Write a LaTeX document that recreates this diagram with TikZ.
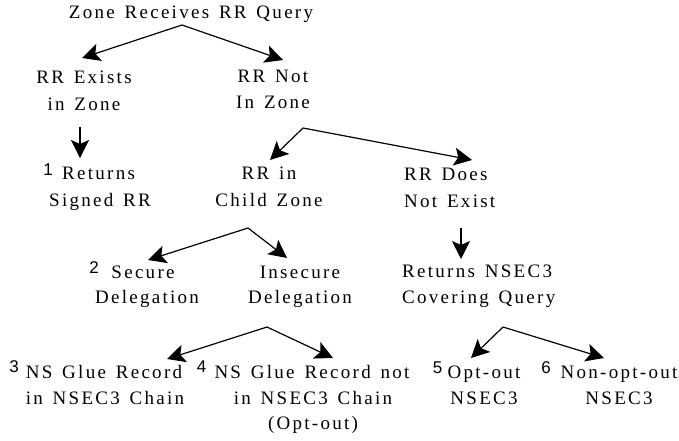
\documentclass[tikz,border=0pt]{standalone}
\usepackage{fontspec}
\setmainfont{Liberation Serif}[LetterSpace=12,WordSpace=1.4]
\newfontfamily\numfont{Liberation Sans}
\usetikzlibrary{arrows.meta}
\begin{document}
\begin{tikzpicture}[x=1pt,y=-1pt,
  txt/.style={inner sep=0pt, font=\fontsize{19}{26}\selectfont, anchor=base},
  txtl/.style={txt, anchor=base west},
  num/.style={inner sep=0pt, font=\numfont\fontsize{17}{17}\selectfont, anchor=base},
  arr/.style={line width=1.2pt, -{Stealth[length=18pt,width=18pt,inset=4pt]}}]
\useasboundingbox (0,0) rectangle (679,440);

% texts
\node[txt] (query) at (191,18) {Zone Receives RR Query};
\node[txt] (exists) at (84,83) {RR Exists};
\node[txt] (exists2) at (84,110) {in Zone};
\node[txt] (notin) at (273,82) {RR Not};
\node[txt] (notin2) at (273,108) {In Zone};
\node[num] (n1) at (48,175) {1};
\node[txtl] (signed) at (62,179) {Returns};
\node[txt] (signed2) at (100,206) {Signed RR};
\node[txt] (child) at (269,179) {RR in};
\node[txt] (child2) at (269,206) {Child Zone};
\node[txtl] (noexist) at (404,180) {RR Does};
\node[txtl] (noexist2) at (404,207) {Not Exist};
\node[txtl] (covering) at (402,277) {Returns NSEC3};
\node[txtl] (covering2) at (402,303) {Covering Query};
\node[num] (n2) at (94,273) {2};
\node[txt] (secure) at (143,278) {Secure};
\node[txt] (secure2) at (147,303) {Delegation};
\node[txt] (insecure) at (300,278) {Insecure};
\node[txt] (insecure2) at (300,303) {Delegation};
\node[num] (n3) at (14,372) {3};
\node[txt] (glue) at (104,378) {NS Glue Record};
\node[txt] (glue2) at (105,404) {in NSEC3 Chain};
\node[num] (n4) at (201.5,372) {4};
\node[txt] (noglue) at (312,378) {NS Glue Record not};
\node[txt] (noglue2) at (313,404) {in NSEC3 Chain};
\node[txt] (noglue3) at (313,429) {(Opt-out)};
\node[num] (n5) at (437.5,373) {5};
\node[txt] (optout) at (484,378) {Opt-out};
\node[txt] (optout2) at (484,404) {NSEC3};
\node[num] (n6) at (546,373) {6};
\node[txt] (nonopt) at (619,378) {Non-opt-out};
\node[txt] (nonopt2) at (619,404) {NSEC3};

% connector points
\coordinate (a1) at (182,25);
\coordinate (t1l) at (82,58);
\coordinate (t1r) at (283,60);
\coordinate (a2) at (80,127);
\coordinate (t2) at (80,158);
\coordinate (a3) at (303,128);
\coordinate (t3l) at (270,160);
\coordinate (t3r) at (472,160);
\coordinate (a4) at (461,228);
\coordinate (t4) at (461,259);
\coordinate (a5) at (248,228);
\coordinate (t5l) at (148,260);
\coordinate (t5r) at (287,258);
\coordinate (a6) at (267,327);
\coordinate (t6l) at (167,359);
\coordinate (t6r) at (333,358);
\coordinate (a7) at (503,327);
\coordinate (t7l) at (471,358);
\coordinate (t7r) at (604,358);

\draw[arr] (a1) -- (t1l);
\draw[arr] (a1) -- (t1r);
\draw[arr] (a2) -- (t2);
\draw[arr] (a3) -- (t3l);
\draw[arr] (a3) -- (t3r);
\draw[arr] (a4) -- (t4);
\draw[arr] (a5) -- (t5l);
\draw[arr] (a5) -- (t5r);
\draw[arr] (a6) -- (t6l);
\draw[arr] (a6) -- (t6r);
\draw[arr] (a7) -- (t7l);
\draw[arr] (a7) -- (t7r);
\end{tikzpicture}
\end{document}
